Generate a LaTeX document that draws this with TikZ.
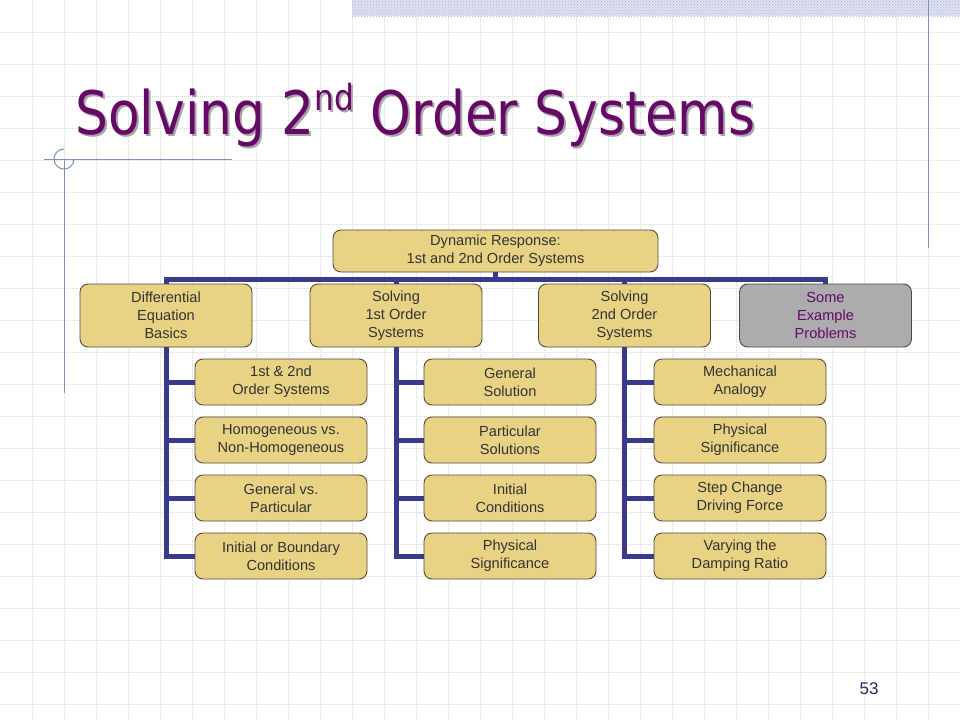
\documentclass[tikz,border=0pt]{standalone}
\usepackage{fontspec}
\setmainfont{Liberation Sans}
\newfontfamily\titlefont{DejaVu Sans}
\usetikzlibrary{patterns}
\definecolor{boxfill}{RGB}{232,211,133}
\definecolor{boxline}{RGB}{85,72,60}
\definecolor{greyfill}{RGB}{172,172,174}
\definecolor{conncol}{RGB}{56,58,138}
\definecolor{titlecol}{RGB}{102,8,102}
\definecolor{decocol}{RGB}{128,142,184}
\definecolor{gridcol}{RGB}{215,215,220}
\definecolor{bandcol}{RGB}{222,226,242}
\definecolor{txtcol}{RGB}{51,51,51}
\tikzset{
  box/.style={draw=boxline, line width=0.9pt, fill=boxfill, rounded corners=8pt,
    align=center, text=txtcol, font=\fontsize{14.6}{18}\selectfont, inner sep=0pt},
  topbox/.style={box, minimum width=325pt, minimum height=42pt},
  midbox/.style={box, minimum width=172pt, minimum height=63pt},
  subbox/.style={box, minimum width=172pt, minimum height=46pt},
  greybox/.style={midbox, fill=greyfill, text=titlecol},
  conn/.style={draw=conncol, line width=5pt},
  gridline/.style={draw=gridcol, line width=0.8pt, dash pattern=on 1pt off 1pt},
  deco/.style={draw=decocol, line width=1pt},
  titlestyle/.style={anchor=base west, xscale=0.865, transform shape, inner sep=0pt,
    font=\titlefont\fontsize{60}{60}\selectfont}
}
\newcommand{\titletext}{Solving 2\raisebox{0.4em}{\fontsize{36}{36}\selectfont nd} Order Systems}
\begin{document}
\begin{tikzpicture}[x=1pt,y=-1pt]
\useasboundingbox (0,0) rectangle (960,720);
\fill[white] (0,0) rectangle (960,720);
% grid
\foreach \i in {1,...,29} { \draw[gridline] (32*\i,0) -- (32*\i,720); }
\foreach \j in {1,...,22} { \draw[gridline] (0,32*\j) -- (960,32*\j); }
% top band
\fill[bandcol] (352,0) rectangle (960,16);
\fill[pattern=crosshatch dots, pattern color=decocol!70] (352,0) rectangle (960,16);
% decorations
\draw[deco] (928,0) -- (928,248);
\draw[deco] (44,159) -- (232,159);
\draw[deco] (64,159) -- (64,393);
\draw[deco] (74,159) arc[start angle=0, end angle=270, radius=10];
% title
\node[titlestyle, text=black!35] (titleshadow) at (77,136) {\titletext};
\node[titlestyle, text=titlecol] (title) at (75,134) {\titletext};
% nodes
\node[topbox] (top) at (495.5,251) {Dynamic Response:\\1st and 2nd Order Systems};
\node[midbox] (deb) at (166,315.5) {Differential\\Equation\\Basics};
\node[midbox] (s1) at (396,315.5) {Solving\\1st Order\\Systems};
\node[midbox] (s2) at (624.5,315.5) {Solving\\2nd Order\\Systems};
\node[greybox] (ex) at (825.5,315.5) {Some\\Example\\Problems};
\node[subbox] (a1) at (281,382) {1st \& 2nd\\Order Systems};
\node[subbox] (a2) at (281,440) {Homogeneous vs.\\Non-Homogeneous};
\node[subbox] (a3) at (281,498) {General vs.\\Particular};
\node[subbox] (a4) at (281,556) {Initial or Boundary\\Conditions};
\node[subbox] (b1) at (510,382) {General\\Solution};
\node[subbox] (b2) at (510,440) {Particular\\Solutions};
\node[subbox] (b3) at (510,498) {Initial\\Conditions};
\node[subbox] (b4) at (510,556) {Physical\\Significance};
\node[subbox] (c1) at (740,382) {Mechanical\\Analogy};
\node[subbox] (c2) at (740,440) {Physical\\Significance};
\node[subbox] (c3) at (740,498) {Step Change\\Driving Force};
\node[subbox] (c4) at (740,556) {Varying the\\Damping Ratio};
\node[text=txtcol!80!blue, font=\fontsize{17}{17}\selectfont] (pg) at (869,689) {53};
% connectors
\coordinate (bar) at (0,279);
\foreach \n in {deb,s1,s2,ex} {
  \draw[conn] (top.south) -- (top.south |- bar) -| (\n.north);
}
\foreach \p/\c in {deb/a,s1/b,s2/c} {
  \foreach \k in {1,2,3,4} {
    \draw[conn] (\p.south) |- (\c\k.west);
  }
}
\end{tikzpicture}
\end{document}
